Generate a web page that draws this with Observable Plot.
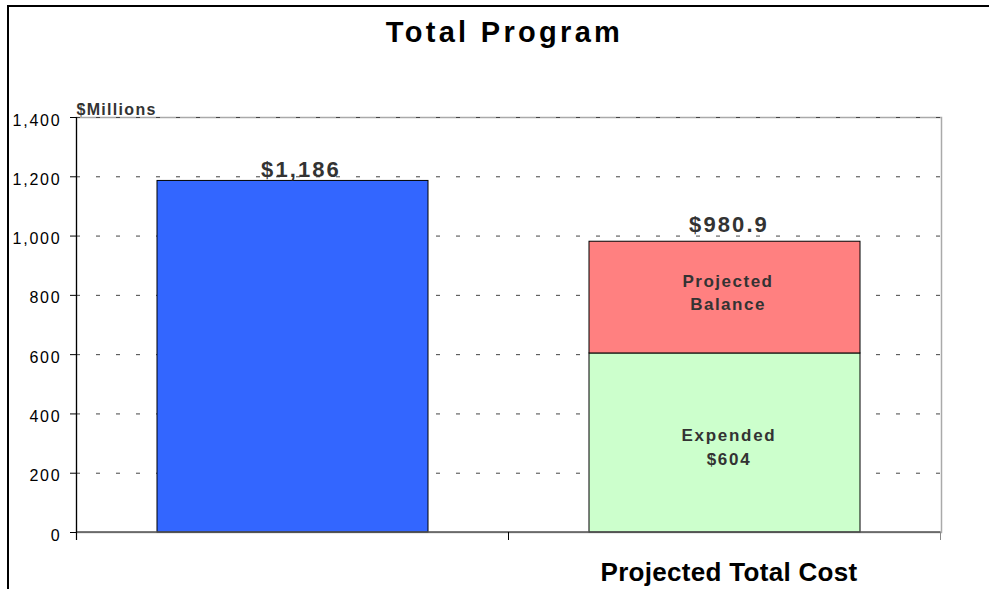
<!DOCTYPE html>
<html>
<head>
<meta charset="utf-8">
<script src="https://cdn.jsdelivr.net/npm/d3@7"></script>
<script src="https://cdn.jsdelivr.net/npm/@observablehq/plot@0.6"></script>
<style>
  html, body { margin: 0; padding: 0; background: #fff; overflow: hidden; }
  body { font-family: "Liberation Sans", Arial, sans-serif; }
  #wrap { position: relative; width: 989px; height: 589px; }
  #frame { position: absolute; left: 7px; top: 5px; width: 1100px; height: 700px;
           border-left: 2px solid #000; border-top: 2px solid #000; pointer-events: none; }
  #title { box-sizing: border-box; height: 70px; padding-top: 19px; padding-left: 20px;
           line-height: 27px; font-size: 29px; font-weight: bold; letter-spacing: 3.3px;
           text-align: center; color: #000; }
  svg { display: block; }
</style>
</head>
<body>
<div id="wrap">
  <div id="title">Total Program</div>
  <div id="chart"></div>
  <div id="frame"></div>
</div>
<script>
// ---- data ----
const categories = ["Total Program", "Projected Total Cost"];
const xTickLabels = ["", "Projected Total Cost"];
const segments = ["Total", "Expended", "Projected Balance"];
const segCategory = ["Total Program", "Projected Total Cost", "Projected Total Cost"];
const segValues = [1186, 604, 376.9];
const segColors = ["#3366FF", "#CCFFCC", "#FF8080"];
const segLabels = [null, "Expended\n$604", "Projected\nBalance"];
const totals = [1186, 980.9];
const totalLabels = ["$1,186", "$980.9"];
const yTicks = [0, 200, 400, 600, 800, 1000, 1200, 1400];
const yUnit = "$Millions";

const rows = segments.map((s, i) => ({cat: segCategory[i], seg: s, value: segValues[i], label: segLabels[i]}));
const totalRows = categories.map((c, i) => ({cat: c, total: totals[i], label: totalLabels[i]}));

// axis lines & band-boundary ticks drawn from the scales
function axisDecor(index, scales, values, dims) {
  const x = scales.x, y = scales.y;
  const bw = x.bandwidth(), step = x.step();
  const gap = (step - bw) / 2;
  const left = x(categories[0]) - gap;
  const right = x(categories[categories.length - 1]) + bw + gap;
  const mid = (x(categories[0]) + bw + x(categories[1])) / 2;
  const y0 = y(0), yTop = y(yTicks[yTicks.length - 1]);
  const g = d3.create("svg:g");
  g.append("line").attr("x1", left).attr("x2", right).attr("y1", y0).attr("y2", y0)
    .attr("stroke", "#555").attr("stroke-width", 1.5);
  g.append("line").attr("x1", left).attr("x2", left).attr("y1", yTop).attr("y2", y0 + 8)
    .attr("stroke", "#000").attr("stroke-width", 1.2);
  g.append("line").attr("x1", mid).attr("x2", mid).attr("y1", y0).attr("y2", y0 + 8)
    .attr("stroke", "#000").attr("stroke-width", 1);
  g.append("line").attr("x1", right).attr("x2", right).attr("y1", y0).attr("y2", y0 + 8)
    .attr("stroke", "#888").attr("stroke-width", 1);
  return g.node();
}

const chart = Plot.plot({
  width: 989,
  height: 519,
  marginLeft: 76,
  marginRight: 48,
  marginTop: 47,
  marginBottom: 57,
  style: {fontFamily: "'Liberation Sans', Arial, sans-serif", fontSize: "16px", background: "transparent"},
  x: {domain: categories, paddingInner: 0.3734, paddingOuter: 0.1867, axis: null},
  y: {domain: [0, 1400]},
  color: {domain: segments, range: segColors},
  marks: [
    Plot.frame({stroke: "#aaa", strokeWidth: 1.5}),
    Plot.gridY(yTicks.filter(d => d > 0), {stroke: "#444", strokeOpacity: 1, strokeDasharray: "4,16"}),
    Plot.barY(rows, {x: "cat", y: "value", fill: "seg", stroke: "#000", strokeWidth: 1}),
    axisDecor,
    Plot.axisY({ticks: yTicks, tickSize: 6, tickFormat: () => "", fill: "none", stroke: "#000", label: null}),
    Plot.text(yTicks, {y: d => d, frameAnchor: "left", dx: -15, dy: 3, textAnchor: "end",
      text: d => d3.format(",")(d), fontSize: 16, fill: "#000"}),
    Plot.text([yUnit], {frameAnchor: "top-left", text: d => d, textAnchor: "start", lineAnchor: "bottom",
      dy: -3, fontWeight: "bold", fontSize: 16, fill: "#333"}),
    Plot.text(categories, {x: d => d, text: (d, i) => xTickLabels[i], frameAnchor: "bottom", lineAnchor: "bottom",
      dy: 48, dx: 4, fontWeight: "bold", fontSize: 26, fill: "#000"}),
    Plot.text([totalRows[0]], {x: "cat", y: "total", text: "label", lineAnchor: "bottom", dy: -3.8, dx: 8,
      fontWeight: "bold", fontSize: 22, fill: "#333"}),
    Plot.text([totalRows[1]], {x: "cat", y: "total", text: "label", lineAnchor: "bottom", dy: -9.5, dx: 4,
      fontWeight: "bold", fontSize: 22, fill: "#333"}),
    Plot.text(rows, Plot.stackY({x: "cat", y: "value", text: d => d.seg === "Projected Balance" ? d.label : null,
      dy: -6.8, dx: 3, lineHeight: 1.4, fontWeight: "bold", fontSize: 17, fill: "#333"})),
    Plot.text(rows, Plot.stackY({x: "cat", y: "value", text: d => d.seg === "Expended" ? d.label : null,
      dy: 2.5, dx: 4, lineHeight: 1.39, fontWeight: "bold", fontSize: 17, fill: "#333"}))
  ]
});
// letter spacing for the text marks, in mark order
const spacings = [1.8, 1.3, 0.3, 2.1, 2.1, 1.5, 1.7];
chart.querySelectorAll('g[aria-label="text"]').forEach((g, i) => {
  if (spacings[i] != null) g.style.letterSpacing = spacings[i] + "px";
});
document.getElementById("chart").appendChild(chart);
</script>
</body>
</html>
